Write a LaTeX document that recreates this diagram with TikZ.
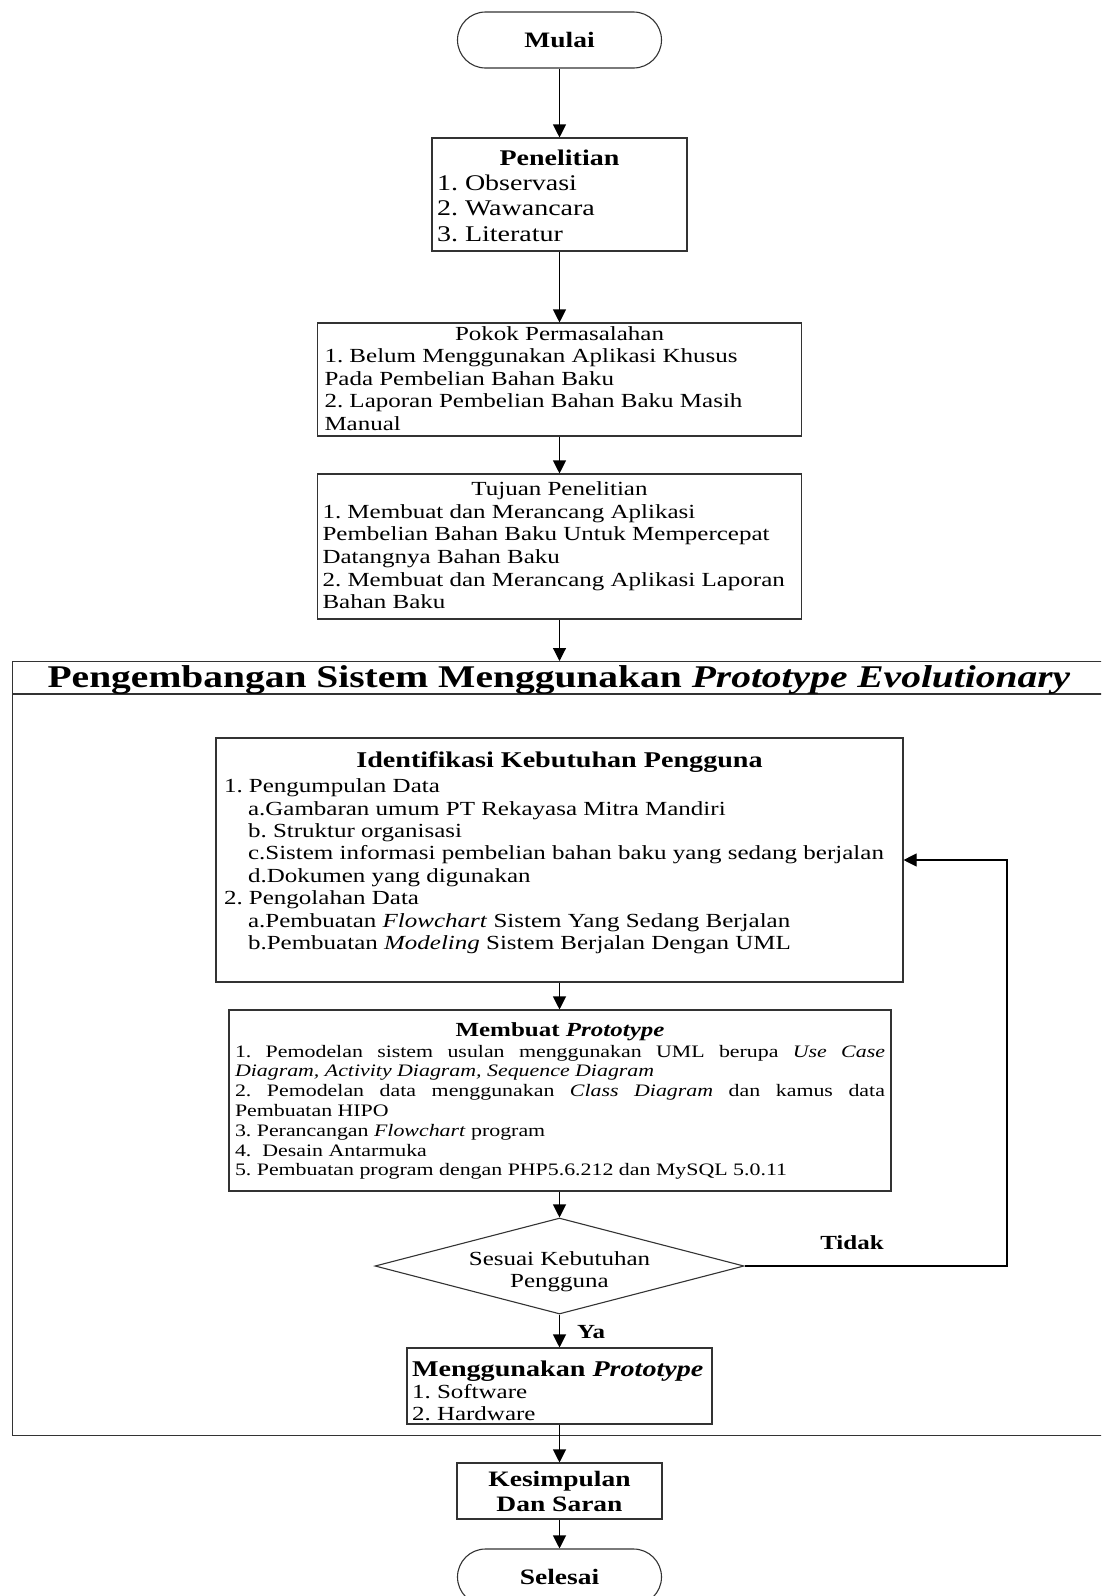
\documentclass[tikz,border=0pt]{standalone}
\usepackage{fontspec}
\setmainfont{Liberation Serif}[FakeStretch=1.25]
\usetikzlibrary{arrows.meta,shapes.geometric}
\frenchspacing
\newcommand{\boxt}[4]{\parbox[c][#2][t]{#1}{\lineskiplimit=-1000pt\relax\lineskip=0pt\relax\rule{0pt}{#3}#4}}
\tikzset{
  box/.style={draw=black!80, line width=1.1pt, rectangle, inner ysep=0pt},
  arr/.style={draw=black, line width=1.1pt, -{Triangle[width=13pt,length=13pt]}},
  plain/.style={draw=black!80, line width=1.1pt},
  term/.style={draw=black!80, line width=1.1pt, rounded corners=28pt, minimum width=204pt, minimum height=56pt, inner sep=0pt, font=\fontsize{22}{25}\selectfont\bfseries},
  lbl/.style={font=\fontsize{20}{22}\selectfont\bfseries, inner sep=0pt},
}
\begin{document}
\begin{tikzpicture}[x=1pt,y=-1pt]
\useasboundingbox (0,0) rectangle (1101,1596);
\fill[white] (0,0) rectangle (1101,1596);
\clip (0,0) rectangle (1101,1596);

\node[term] (mulai) at (559.5,40) {Mulai};

\node[box, inner xsep=5pt, font=\fontsize{22.4}{25.2}\selectfont] (pen) at (559.5,194.5)
  {\boxt{245pt}{113pt}{27.5pt}{\makebox[\linewidth]{\bfseries Penelitian}\\1. Observasi\\2. Wawancara\\3. Literatur}};

\node[box, inner xsep=7pt, font=\fontsize{20}{22.6}\selectfont] (pok) at (559.5,379.5)
  {\boxt{470pt}{113pt}{17pt}{\makebox[\linewidth]{Pokok Permasalahan}\\1. Belum Menggunakan Aplikasi Khusus\\Pada Pembelian Bahan Baku\\2. Laporan Pembelian Bahan Baku Masih\\Manual}};

\node[box, inner xsep=5pt, font=\fontsize{20}{22.6}\selectfont] (tuj) at (559.5,546.5)
  {\boxt{474pt}{145pt}{21.7pt}{\makebox[\linewidth]{Tujuan Penelitian}\\1. Membuat dan Merancang Aplikasi\\Pembelian Bahan Baku Untuk Mempercepat\\Datangnya Bahan Baku\\2. Membuat dan Merancang Aplikasi Laporan\\Bahan Baku}};

\node[plain, minimum width=1092pt, minimum height=774pt, anchor=north west, inner sep=0pt] (cont) at (12,661) {};
\coordinate (divl) at (12,694);
\coordinate (divr) at (1104,694);
\draw[plain] (divl) -- (divr);
\node[anchor=base, inner sep=0pt, font=\fontsize{31.6}{34}\selectfont\bfseries] (title) at (559,687)
  {Pengembangan Sistem Menggunakan \textit{Prototype Evolutionary}};

\node[box, inner xsep=8pt, font=\fontsize{20}{22.4}\selectfont] (ident) at (559.5,860)
  {\boxt{671pt}{244pt}{29.5pt}{\makebox[\linewidth]{\fontsize{22.5}{25}\selectfont\bfseries Identifikasi Kebutuhan Pengguna}\\[2.7pt]
  1. Pengumpulan Data\\
  \hspace*{24pt}a.Gambaran umum PT Rekayasa Mitra Mandiri\\
  \hspace*{24pt}b. Struktur organisasi\\
  \hspace*{24pt}c.Sistem informasi pembelian bahan baku yang sedang berjalan\\
  \hspace*{24pt}d.Dokumen yang digunakan\\
  2. Pengolahan Data\\
  \hspace*{24pt}a.Pembuatan \textit{Flowchart} Sistem Yang Sedang Berjalan\\
  \hspace*{24pt}b.Pembuatan \textit{Modeling} Sistem Berjalan Dengan UML}};

\node[box, inner xsep=6pt, font=\fontsize{17.5}{19.8}\selectfont] (memb) at (560,1100.5)
  {\boxt{650pt}{181pt}{26.6pt}{\makebox[\linewidth]{\fontsize{20}{20}\selectfont\bfseries Membuat \textit{Prototype}}\\[0.6pt]
  \makebox[\linewidth][s]{1. Pemodelan sistem usulan menggunakan UML berupa \textit{Use Case}}\\
  \textit{Diagram, Activity Diagram, Sequence Diagram}\\
  \makebox[\linewidth][s]{2. Pemodelan data menggunakan \textit{Class Diagram} dan kamus data}\\
  Pembuatan HIPO\\
  3. Perancangan \textit{Flowchart} program\\
  4.\ \ Desain Antarmuka\\
  5. Pembuatan program dengan PHP5.6.212 dan MySQL 5.0.11}};

\node[plain, diamond, shape aspect=3.84, minimum width=369pt, minimum height=96pt, inner sep=0pt] (dec) at (559.5,1266) {};
\node[anchor=north, inner sep=0pt, align=center, font=\fontsize{20}{22}\selectfont] (dectxt) at (559.5,1251)
  {Sesuai Kebutuhan\\Pengguna};

\node[box, inner xsep=5pt, font=\fontsize{20}{22}\selectfont] (meng) at (559.5,1386)
  {\boxt{295pt}{76pt}{28pt}{\makebox[\linewidth][l]{\fontsize{22.5}{22}\selectfont\bfseries Menggunakan \textit{Prototype}}\\1. Software\\2. Hardware}};

\node[box, inner sep=0pt, minimum width=205pt, minimum height=56pt, align=center, font=\fontsize{22}{25}\selectfont\bfseries] (kes) at (559.5,1491)
  {Kesimpulan\\Dan Saran};

\node[term] (sel) at (559.5,1577) {Selesai};

\node[lbl] (tidak) at (852,1243) {Tidak};
\node[lbl, anchor=west] (ya) at (577,1332) {Ya};

\coordinate (loop) at (1007,1266);

\draw[arr] (mulai.south) -- (pen.north);
\draw[arr] (pen.south) -- (pok.north);
\draw[arr] (pok.south) -- (tuj.north);
\draw[arr] (tuj.south) -- (tuj.south |- cont.north);
\draw[arr] (ident.south) -- (ident.south |- memb.north);
\draw[arr] (memb.south -| dec.north) -- (dec.north);
\draw[arr] (dec.south) -- (meng.north);
\draw[arr] (dec.east) -- (loop) |- (ident.east);
\draw[arr] (meng.south) -- (kes.north);
\draw[arr] (kes.south) -- (sel.north);
\end{tikzpicture}
\end{document}
